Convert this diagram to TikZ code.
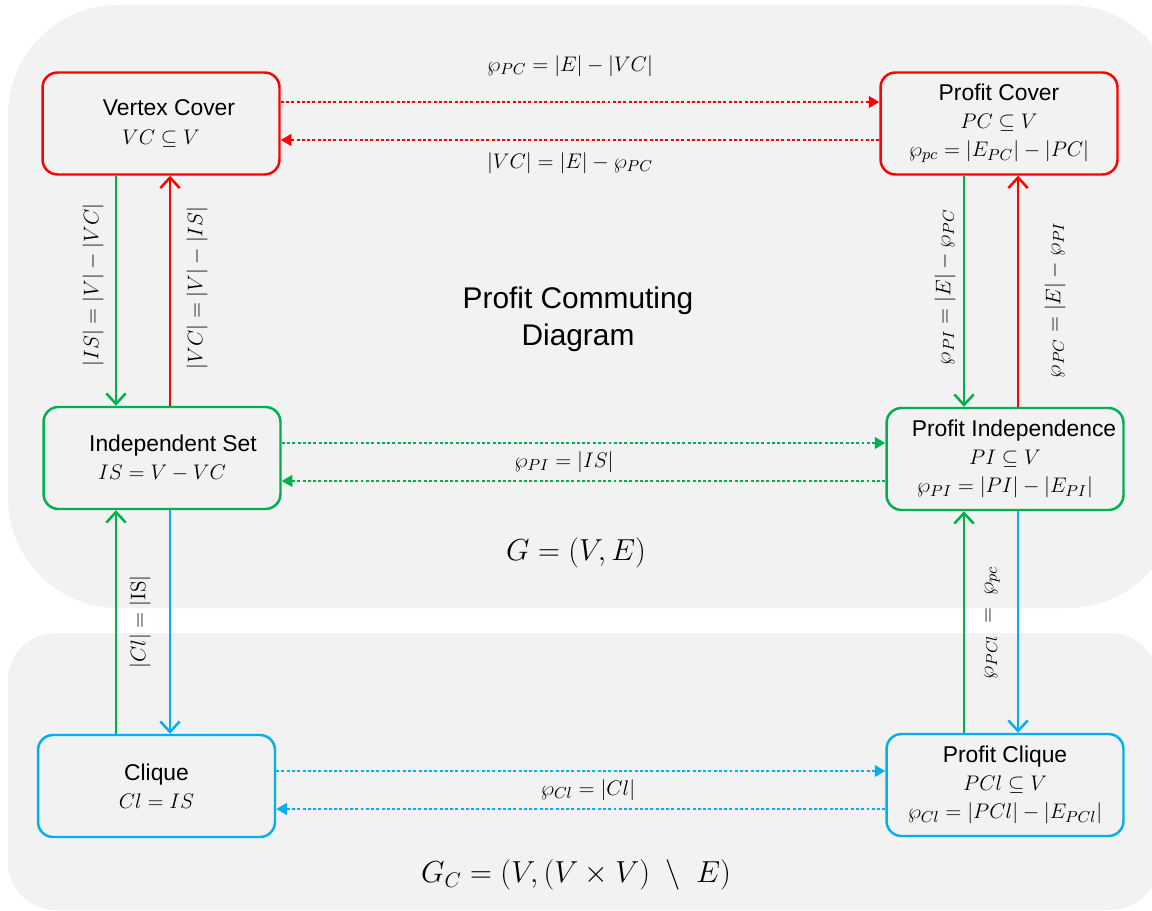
\documentclass[tikz,border=0pt]{standalone}
\usepackage{amsmath}
\usepackage[no-math]{fontspec}
\setmainfont{Liberation Sans}
\usetikzlibrary{positioning,arrows.meta,calc}

\definecolor{pcred}{RGB}{255,0,0}
\definecolor{pcgreen}{RGB}{0,176,80}
\definecolor{pcblue}{RGB}{0,176,240}
\definecolor{panelgray}{RGB}{242,242,242}

\begin{document}
\begin{tikzpicture}[
    x=0.02cm, y=-0.02cm,
    panel/.style={fill=panelgray,draw=none},
    setbox/.style={draw,line width=1.4pt,rounded corners=0.3cm,minimum width=4.74cm,
                   minimum height=2.04cm,align=center,inner sep=2pt,
                   font=\fontsize{13}{16}\selectfont},
    lbl/.style={font=\fontsize{13}{16}\selectfont,inner sep=1pt},
    vlbl/.style={lbl,rotate=90},
    big/.style={font=\fontsize{18}{21}\selectfont},
    flow/.style={line width=1.4pt,-{Straight Barb[length=6pt,width=11pt]}},
    dotflow/.style={line width=1.4pt,dash pattern=on 1.7pt off 1.3pt,
                    -{Triangle[length=6pt,width=6.5pt]}}
]

\useasboundingbox (0,0) rectangle (1152,911);
\clip (0,0) rectangle (1152,911);

% background panels
\fill[panel,rounded corners=2.2cm] (8,5) rectangle (1178,608);
\fill[panel,rounded corners=0.95cm] (8,633) rectangle (1158,910);

% nodes
\node[setbox,draw=pcred]   (VC)  at (161,123.5) {\hspace*{0.32cm}Vertex Cover\\$VC \subseteq V$};
\node[setbox,draw=pcred]   (PC)  at (999,123.5) {Profit Cover\\$PC \subseteq V$\\$\wp_{pc} = |E_{PC}| - |PC|$};
\node[setbox,draw=pcgreen] (IS)  at (162,458)   {\hspace*{0.44cm}Independent Set\\$IS = V - VC$};
\node[setbox,draw=pcgreen] (PI)  at (1005,459)  {\hspace*{0.36cm}Profit Independence\\$PI \subseteq V$\\$\wp_{PI} = |PI| - |E_{PI}|$};
\node[setbox,draw=pcblue]  (Cl)  at (156.5,786) {Clique\\$Cl = IS$};
\node[setbox,draw=pcblue]  (PCl) at (1005,785)  {Profit Clique\\$PCl \subseteq V$\\$\wp_{Cl} = |PCl| - |E_{PCl}|$};

% lanes for the connectors
\coordinate (lg) at (116,0);
\coordinate (lr) at (170,0);
\coordinate (rg) at (964,0);
\coordinate (rr) at (1018,0);
\coordinate (t1) at (0,102);
\coordinate (t2) at (0,140);
\coordinate (m1) at (0,443);
\coordinate (m2) at (0,481);
\coordinate (b1) at (0,771);
\coordinate (b2) at (0,809);

% vertical arrows
\draw[flow,pcgreen] (VC.south -| lg) -- (IS.north -| lg);
\draw[flow,pcred]   (IS.north -| lr) -- (VC.south -| lr);
\draw[flow,pcgreen] (PC.south -| rg) -- (PI.north -| rg);
\draw[flow,pcred]   (PI.north -| rr) -- (PC.south -| rr);
\draw[flow,pcgreen] (Cl.north -| lg) -- (IS.south -| lg);
\draw[flow,pcblue]  (IS.south -| lr) -- (Cl.north -| lr);
\draw[flow,pcgreen] (PCl.north -| rg) -- (PI.south -| rg);
\draw[flow,pcblue]  (PI.south -| rr) -- (PCl.north -| rr);

% horizontal dotted arrows
\draw[dotflow,pcred]   (VC.east |- t1) -- (PC.west |- t1);
\draw[dotflow,pcred]   (PC.west |- t2) -- (VC.east |- t2);
\draw[dotflow,pcgreen] (IS.east |- m1) -- (PI.west |- m1);
\draw[dotflow,pcgreen] (PI.west |- m2) -- (IS.east |- m2);
\draw[dotflow,pcblue]  (Cl.east |- b1) -- (PCl.west |- b1);
\draw[dotflow,pcblue]  (PCl.west |- b2) -- (Cl.east |- b2);

% labels on the arrows
\node[lbl] (lVCPC) at (570,66)  {$\wp_{PC} = |E| - |VC|$};
\node[lbl] (lPCVC) at (570,163) {$|VC| = |E| - \wp_{PC}$};
\node[lbl] (lISPI) at (564,462) {$\wp_{PI} = |IS|$};
\node[lbl] (lClP)  at (588,790) {$\wp_{Cl} = |Cl|$};
\node[vlbl] (lVCIS) at (93,285)   {$|IS| = |V| - |VC|$};
\node[vlbl] (lISVC) at (197,288)  {$|VC| = |V| - |IS|$};
\node[vlbl] (lPCPI) at (945,287)  {$\wp_{PI} = |E| - \wp_{PC}$};
\node[vlbl] (lPIPC) at (1055,300) {$\wp_{PC} = |E| - \wp_{PI}$};
\node[vlbl] (lClIS) at (140,622)  {$|Cl| = |\mathrm{IS}|$};
\node[vlbl] (lPClP) at (992,623)  {$\wp_{PCl} \;=\; \wp_{pc}$};

% titles
\node[big,align=center,font=\fontsize{17}{21}\selectfont] (title) at (578,319) {Profit Commuting\\Diagram};
\node[big] (G)  at (576,553) {$G = (V,E)$};
\node[big] (GC) at (576,875) {$G_C = (V,(V \times V)\ \setminus\ E)$};

\end{tikzpicture}
\end{document}
